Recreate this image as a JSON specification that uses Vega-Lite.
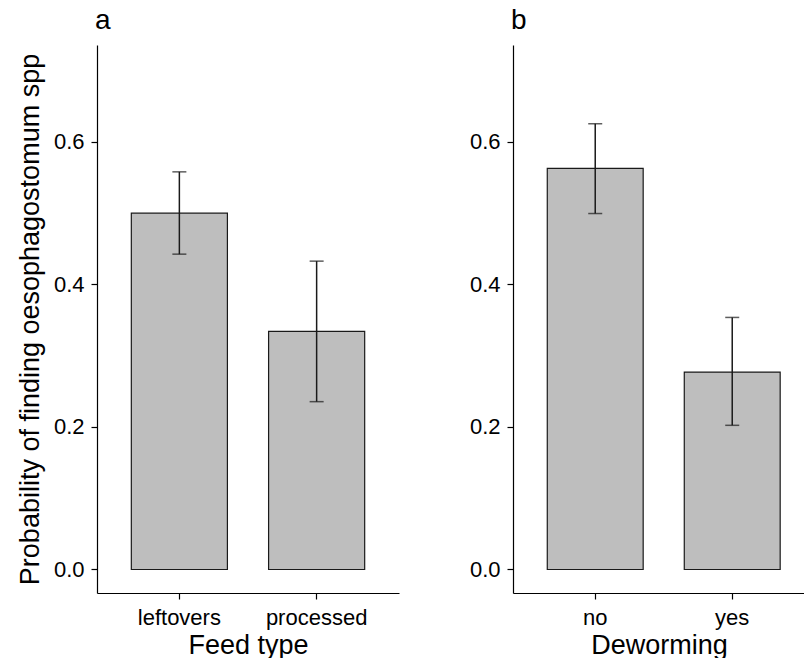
{
  "$schema": "https://vega.github.io/schema/vega-lite/v6.json",
  "padding": {"left": 16, "top": 7, "right": 0, "bottom": 0},
  "datasets": {
    "feed": [
      {"group": "leftovers", "p": 0.500, "lo": 0.4425, "hi": 0.558},
      {"group": "processed", "p": 0.334, "lo": 0.2355, "hi": 0.4327}
    ],
    "deworm": [
      {"group": "no", "p": 0.563, "lo": 0.4995, "hi": 0.6255},
      {"group": "yes", "p": 0.277, "lo": 0.2023, "hi": 0.3537}
    ]
  },
  "config": {
    "view": {"stroke": null},
    "font": "Liberation Sans",
    "axis": {
      "grid": false,
      "domainColor": "black",
      "tickColor": "black",
      "labelColor": "black",
      "titleColor": "black",
      "labelFont": "Liberation Sans",
      "titleFont": "Liberation Sans",
      "labelFontSize": 22,
      "titleFontSize": 27,
      "titleFontWeight": "normal",
      "tickSize": 6,
      "domainWidth": 1.2,
      "tickWidth": 1.2
    },
    "title": {"font": "Liberation Sans", "fontSize": 28, "fontWeight": "normal", "anchor": "start", "frame": "group", "baseline": "alphabetic", "offset": 10, "color": "black", "dx": -2}
  },
  "spacing": 70,
  "hconcat": [
    {
      "title": {"text": "a"},
      "width": 302,
      "height": 548,
      "data": {"name": "feed"},
      "encoding": {
        "x": {"field": "group", "type": "nominal", "sort": null, "title": "Feed type",
              "scale": {"paddingInner": 0.3, "paddingOuter": 0.25},
              "axis": {"labelAngle": 0, "labelPadding": 8, "titlePadding": 4}}
      },
      "layer": [
        {
          "mark": {"type": "bar", "fill": "#bebebe", "stroke": "#1a1a1a", "strokeWidth": 1.2},
          "encoding": {
            "y": {"field": "p", "type": "quantitative", "title": "Probability of finding oesophagostomum spp",
                  "scale": {"domain": [-0.033, 0.736], "nice": false, "zero": false},
                  "axis": {"values": [0, 0.2, 0.4, 0.6], "format": ".1f", "titleFontSize": 27, "labelPadding": 7, "titlePadding": 9}},
            "y2": {"datum": 0}
          }
        },
        {
          "mark": {"type": "rule", "color": "#1a1a1a", "strokeWidth": 1.5},
          "encoding": {
            "y": {"field": "lo", "type": "quantitative", "title": "Probability of finding oesophagostomum spp"},
            "y2": {"field": "hi"}
          }
        },
        {
          "mark": {"type": "tick", "color": "#1a1a1a", "thickness": 1.5, "size": 14},
          "encoding": {"y": {"field": "lo", "type": "quantitative", "title": "Probability of finding oesophagostomum spp"}}
        },
        {
          "mark": {"type": "tick", "color": "#1a1a1a", "thickness": 1.5, "size": 14},
          "encoding": {"y": {"field": "hi", "type": "quantitative", "title": "Probability of finding oesophagostomum spp"}}
        }
      ]
    },
    {
      "title": {"text": "b"},
      "width": 292,
      "height": 548,
      "data": {"name": "deworm"},
      "encoding": {
        "x": {"field": "group", "type": "nominal", "sort": null, "title": "Deworming",
              "scale": {"paddingInner": 0.3, "paddingOuter": 0.2157, "align": 0.58},
              "axis": {"labelAngle": 0, "labelPadding": 8, "titlePadding": 4}}
      },
      "layer": [
        {
          "mark": {"type": "bar", "fill": "#bebebe", "stroke": "#1a1a1a", "strokeWidth": 1.2},
          "encoding": {
            "y": {"field": "p", "type": "quantitative", "title": null,
                  "scale": {"domain": [-0.033, 0.736], "nice": false, "zero": false},
                  "axis": {"values": [0, 0.2, 0.4, 0.6], "format": ".1f", "labelPadding": 7, "title": null}},
            "y2": {"datum": 0}
          }
        },
        {
          "mark": {"type": "rule", "color": "#1a1a1a", "strokeWidth": 1.5},
          "encoding": {
            "y": {"field": "lo", "type": "quantitative", "title": null},
            "y2": {"field": "hi"}
          }
        },
        {
          "mark": {"type": "tick", "color": "#1a1a1a", "thickness": 1.5, "size": 14},
          "encoding": {"y": {"field": "lo", "type": "quantitative", "title": null}}
        },
        {
          "mark": {"type": "tick", "color": "#1a1a1a", "thickness": 1.5, "size": 14},
          "encoding": {"y": {"field": "hi", "type": "quantitative", "title": null}}
        }
      ]
    }
  ]
}
